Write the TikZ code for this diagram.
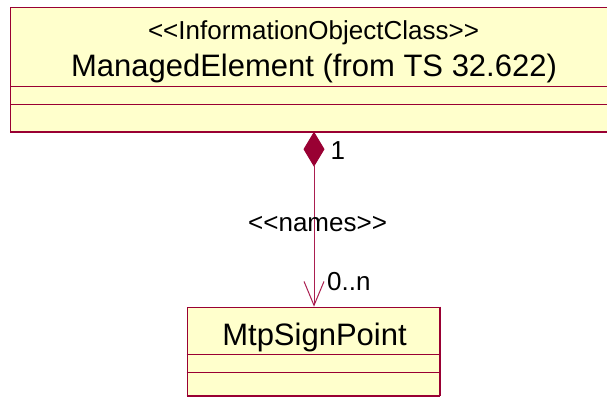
\documentclass[tikz,border=0pt]{standalone}
\usepackage{fontspec}
\setmainfont{Liberation Sans}
\usetikzlibrary{arrows.meta}
\definecolor{umlred}{RGB}{153,0,51}
\definecolor{umlfill}{RGB}{255,255,204}
\definecolor{umlline}{RGB}{170,30,80}
\tikzset{
  classbox/.style={draw=umlred, fill=umlfill, line width=1pt, rectangle, inner sep=0pt, anchor=north west},
  bigtext/.style={font=\fontsize{31}{36}\selectfont, anchor=base, inner sep=0pt},
  smalltext/.style={font=\fontsize{26}{30}\selectfont, anchor=base, inner sep=0pt},
  comp/.style={draw=umlred, line width=1pt},
  heavy/.style={draw=umlred, line width=2pt},
  conn/.style={draw=umlline, line width=1pt}
}
\begin{document}
\begin{tikzpicture}[x=1pt,y=-1pt]
\useasboundingbox (0,0) rectangle (607,396);
\clip (0,0) rectangle (607,396);
% ManagedElement class
\node[classbox, minimum width=608pt, minimum height=124pt] (me) at (10,7) {};
\draw[comp] (10,86.7) -- (618,86.7);
\draw[comp] (10,104.3) -- (618,104.3);
\draw[heavy] (me.south west) -- (me.south east);
\node[smalltext] (meste) at (313.5,39.3) {<{}<InformationObjectClass>{}>};
\node[bigtext] (mename) at (314,77) {ManagedElement (from TS 32.622)};
% MtpSignPoint class
\node[classbox, minimum width=252pt, minimum height=88pt] (msp) at (186.7,306.7) {};
\draw[comp] (msp.west |- 0,354) -- (msp.east |- 0,354);
\draw[comp] (msp.west |- 0,372) -- (msp.east |- 0,372);
\draw[heavy] (msp.south west) -- (msp.south east);
\draw[heavy] (msp.north east) -- (msp.south east);
\node[bigtext] (mspname) at (314.5,345) {MtpSignPoint};
% composition connector
\coordinate (cstart) at (314,131.7);
\draw[conn, {Diamond[fill=umlred, color=umlred, length=35pt, width=21pt]}-{Straight Barb[length=24pt, width=20pt, line width=1pt]}]
  (cstart) -- (cstart |- msp.north);
\node[smalltext, anchor=base west] (mult1) at (330.5,159.3) {1};
\node[smalltext, anchor=base west] (multn) at (327,290.7) {0..n};
\node[smalltext, anchor=base west] (rel) at (248,231.5) {<{}<names>{}>};
\end{tikzpicture}
\end{document}
